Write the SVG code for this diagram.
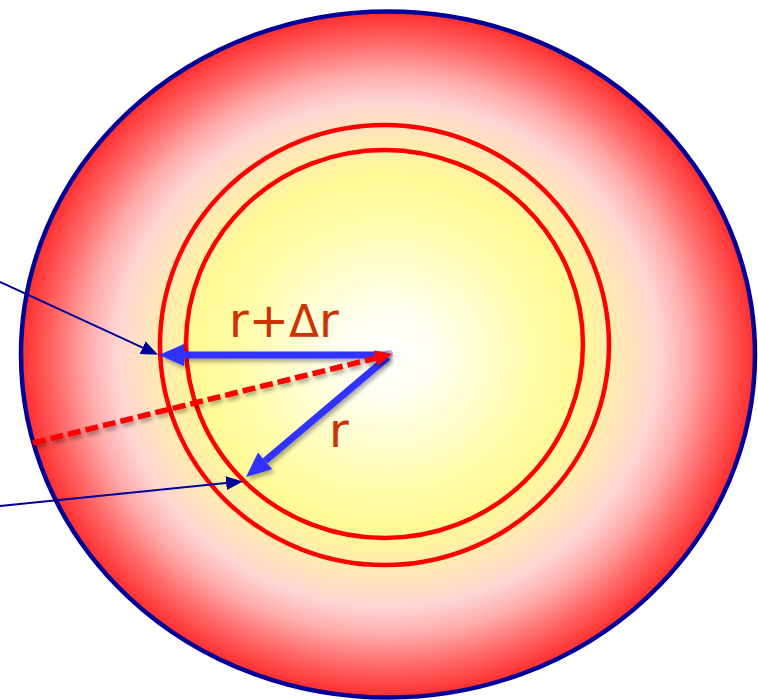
<svg xmlns="http://www.w3.org/2000/svg" width="758" height="700" viewBox="0 0 758 700">
  <defs>
    <radialGradient id="bodyGrad" cx="0.5" cy="0.5" r="0.5">
      <stop offset="0" stop-color="#ffffff"/>
      <stop offset="0.12" stop-color="#fffff2"/>
      <stop offset="0.4" stop-color="#fffcaa"/>
      <stop offset="0.52" stop-color="#fffa96"/>
      <stop offset="0.6" stop-color="#ffeeaa"/>
      <stop offset="0.67" stop-color="#ffe2c0"/>
      <stop offset="0.74" stop-color="#ffd4d4"/>
      <stop offset="0.82" stop-color="#ffaaaa"/>
      <stop offset="0.91" stop-color="#ff6868"/>
      <stop offset="1" stop-color="#ff2d2d"/>
    </radialGradient>
    <filter id="shadow" filterUnits="userSpaceOnUse" x="0" y="0" width="758" height="700">
      <feDropShadow dx="2" dy="3" stdDeviation="2" flood-color="#000000" flood-opacity="0.35"/>
    </filter>
    <marker id="headBlue" viewBox="0 -11 25 22" refX="0" refY="0" markerWidth="25" markerHeight="22" markerUnits="userSpaceOnUse" orient="auto">
      <path d="M0,-11 L25,0 L0,11 z" fill="#3232ff"/>
    </marker>
    <marker id="headRed" viewBox="0 -8 17 16" refX="0" refY="0" markerWidth="17" markerHeight="16" markerUnits="userSpaceOnUse" orient="auto">
      <path d="M0,-8 L17,0 L0,8 z" fill="#ff0000"/>
    </marker>
    <marker id="headNavy" viewBox="0 -7 17 14" refX="0" refY="0" markerWidth="17" markerHeight="14" markerUnits="userSpaceOnUse" orient="auto">
      <path d="M0,-7 L17,0 L0,7 z" fill="#000099"/>
    </marker>
  </defs>
  <style>
    .ring { fill: none; stroke: #ff0000; stroke-width: 4.5; }
    .thick { fill: none; stroke: #3232ff; stroke-width: 7; marker-end: url(#headBlue); }
    .thin { fill: none; stroke: #000099; stroke-width: 2; marker-end: url(#headNavy); }
    .dash { fill: none; stroke: #ff0000; stroke-width: 5.5; stroke-dasharray: 13 5; marker-end: url(#headRed); }
    .lbl { font-family: "DejaVu Sans", Verdana, sans-serif; font-size: 48px; fill: #cc3300; }
  </style>

  <g id="body">
    <ellipse cx="388" cy="354.5" rx="367" ry="343" fill="url(#bodyGrad)" stroke="#000099" stroke-width="4.5"/>
  </g>
  <g id="shell-outer">
    <ellipse class="ring" cx="384.5" cy="345" rx="224.5" ry="220"/>
  </g>
  <g id="shell-inner">
    <ellipse class="ring" cx="384.5" cy="344" rx="198.5" ry="194"/>
  </g>

  <g id="connectors">
    <line class="thick" x1="388" y1="355" x2="184" y2="355" filter="url(#shadow)"/>
    <line class="thick" x1="388" y1="357" x2="265.1" y2="460.9" filter="url(#shadow)"/>
    <circle cx="389" cy="354" r="4" fill="#9a9ad8" opacity="0.8"/>
    <line class="dash" x1="33" y1="443" x2="375.5" y2="358.1" filter="url(#shadow)"/>
    <line class="thin" x1="0" y1="282" x2="142.6" y2="347.7"/>
    <line class="thin" x1="0" y1="506" x2="226.1" y2="483.1"/>
  </g>

  <g id="label-r-dr">
    <text class="lbl" x="229" y="337">r+<tspan font-size="44">Δ</tspan>r</text>
  </g>
  <g id="label-r">
    <text class="lbl" x="329" y="447">r</text>
  </g>
</svg>
